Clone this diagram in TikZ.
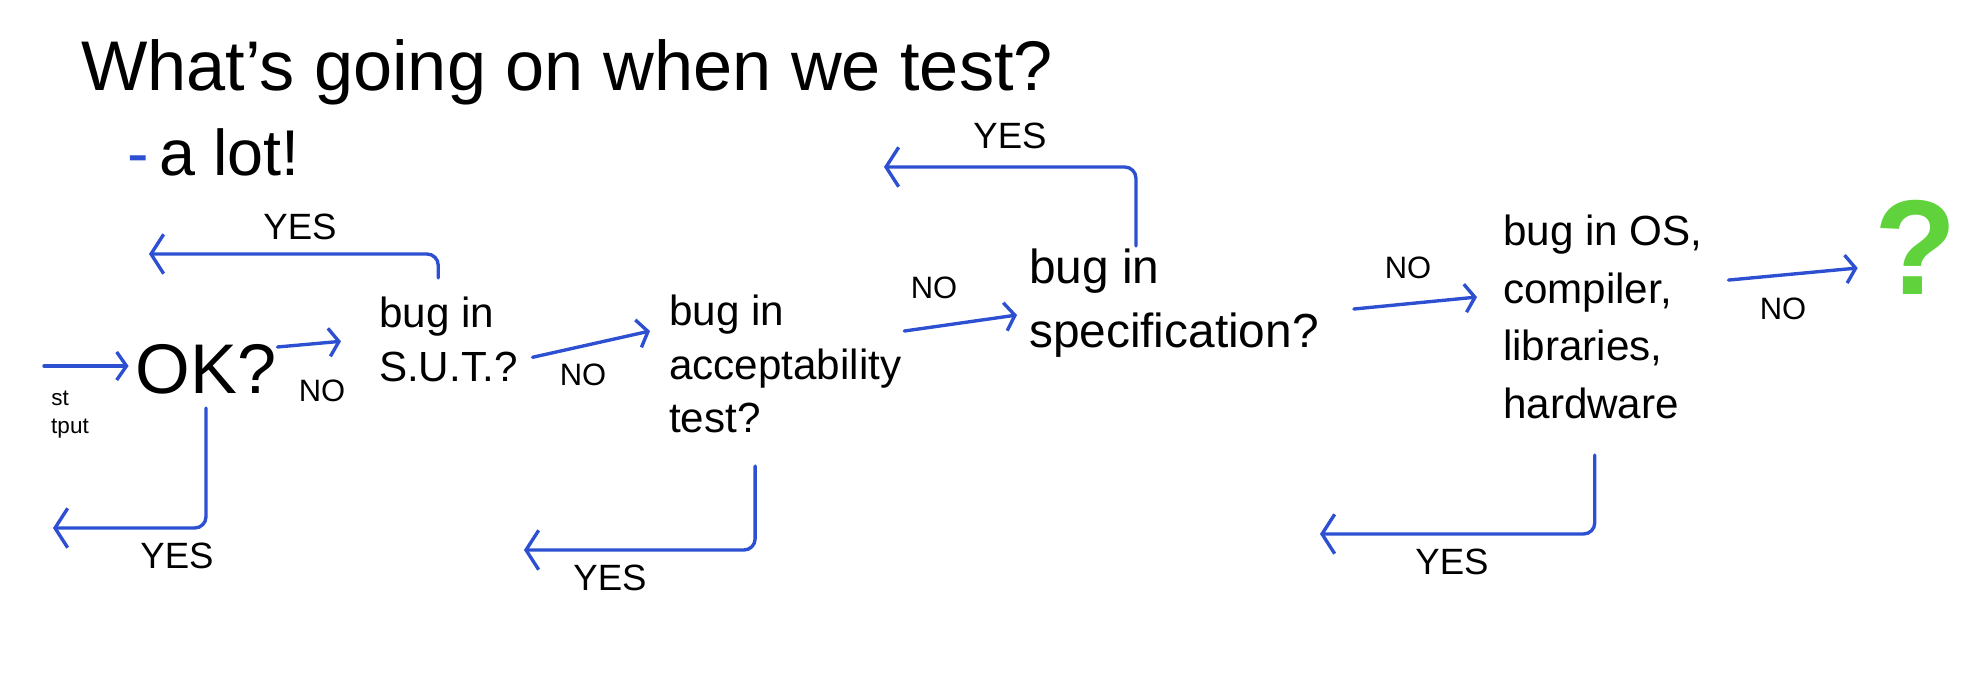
\documentclass[tikz,border=0pt]{standalone}
\usepackage{fontspec}
\setmainfont{Liberation Sans}
\usetikzlibrary{arrows.meta}
\definecolor{penblue}{RGB}{45,80,210}
\definecolor{pengreen}{RGB}{95,210,60}
\begin{document}
\begin{tikzpicture}[x=0.025cm,y=-0.025cm,
  every node/.style={inner sep=2pt, text=black},
  box/.style={align=left, anchor=north west},
  nolbl/.style={font=\fontsize{22}{26}\selectfont},
  yeslbl/.style={font=\fontsize{26}{30}\selectfont},
  flow/.style={draw=penblue, line width=2.4pt, line cap=round, line join=round,
    -{Straight Barb[length=7pt,width=20pt,line width=2.4pt]}},
  back/.style={flow, rounded corners=8pt,
    -{Straight Barb[length=9pt,width=28pt,line width=2.4pt]}},
]
\useasboundingbox (0,0) rectangle (1980,676);

% headings
\node[anchor=base west, font=\fontsize{50}{60}\selectfont] (title) at (78,91) {What's going on when we test?};
\node[anchor=base west, font=\fontsize{46}{52}\selectfont] (alot) at (124,176) {\textcolor{penblue}{-}\,a lot!};

% nodes
\node[font=\fontsize{50}{60}\selectfont] (ok) at (206,369) {OK?};
\node[font=\fontsize{16}{18}\selectfont] (st) at (60,398) {st};
\node[font=\fontsize{16}{18}\selectfont] (tput) at (70,429) {tput};
\node[box, font=\fontsize{30}{38}\selectfont] (sut) at (376,294) {bug in\\S.U.T.?};
\node[box, font=\fontsize{30}{38}\selectfont] (acc) at (666,292) {bug in\\acceptability\\test?};
\node[box, font=\fontsize{34}{45}\selectfont] (spec) at (1026,246) {bug in\\specification?};
\node[box, font=\fontsize{30}{41}\selectfont] (os) at (1500,212) {bug in OS,\\compiler,\\libraries,\\hardware};
\node[font=\bfseries\fontsize{96}{110}\selectfont, text=pengreen] (q) at (1916,247) {?};

% free ends
\coordinate (in) at (44,366);
\coordinate (okyes) at (53,528);
\coordinate (sutyes) at (149,254);
\coordinate (accyes) at (524,550);
\coordinate (specyes) at (884,167);
\coordinate (osyes) at (1320,534);

% NO connectors
\draw[flow] (in) -- ([shift={(-4,-3)}]ok.west);
\draw[flow] ([shift={(-2,-22)}]ok.east) -- ([shift={(-35,2)}]sut.west);
\draw[flow] ([shift={(12,18)}]sut.east) -- ([shift={(-16,-33)}]acc.west);
\draw[flow] ([shift={(0,-33)}]acc.east) -- ([shift={(-9,12)}]spec.west);
\draw[flow] ([shift={(32,6)}]spec.east) -- ([shift={(-23,-20)}]os.west);
\draw[flow] ([shift={(23,-37)}]os.east) -- ([shift={(-14,21)}]q.west);

\node[nolbl] (no1) at (322,391) {NO};
\node[nolbl] (no2) at (583,375) {NO};
\node[nolbl] (no3) at (934,288) {NO};
\node[nolbl] (no4) at (1408,268) {NO};
\node[nolbl] (no5) at (1783,309) {NO};

% YES connectors
\draw[back] ([shift={(0,11)}]ok.south) |- (okyes);
\draw[back] ([shift={(-10,-16)}]sut.north) |- (sutyes);
\draw[back] ([shift={(-30,30)}]acc.south) |- (accyes);
\draw[back] ([shift={(-38,0)}]spec.north) |- (specyes);
\draw[back] ([shift={(-8,33)}]os.south) |- (osyes);

\node[yeslbl] (yes1) at (177,556) {YES};
\node[yeslbl] (yes2) at (300,227) {YES};
\node[yeslbl] (yes3) at (610,578) {YES};
\node[yeslbl] (yes4) at (1010,136) {YES};
\node[yeslbl] (yes5) at (1452,562) {YES};
\end{tikzpicture}
\end{document}
